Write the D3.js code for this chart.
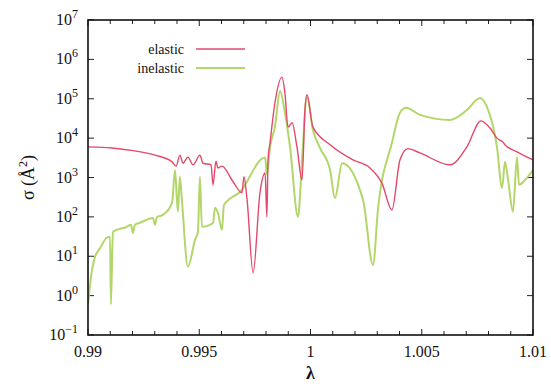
<!DOCTYPE html>
<html>
<head>
<meta charset="utf-8">
<script src="https://cdnjs.cloudflare.com/ajax/libs/d3/7.8.5/d3.min.js"></script>
<style>
  body { margin: 0; background: #fff; }
  svg text { font-family: "Liberation Serif", "Times New Roman", Times, "DejaVu Serif", serif; fill: #111; }
</style>
</head>
<body>
<div id="chart"></div>
<script>
// elastic cross-section
const elasticX = [0.99, 0.99108, 0.99202, 0.99301, 0.99378, 0.99396, 0.99413, 0.99427, 0.99449, 0.99472,
  0.99503, 0.99517, 0.99553, 0.99562, 0.99575, 0.99584, 0.99602, 0.99652, 0.99692, 0.99701,
  0.99715, 0.99742, 0.99773, 0.99796, 0.99804, 0.99809, 0.99818, 0.9984, 0.99872, 0.99885,
  0.99899, 0.99917, 0.99939, 0.99962, 0.99975, 0.99984, 1.00011, 1.00088, 1.00191, 1.00267,
  1.00321, 1.00366, 1.00402, 1.00438, 1.00492, 1.00627, 1.00703, 1.00766, 1.00807, 1.00838,
  1.00865, 1.00874, 1.00928, 1.01];
const elasticY = [6000, 5600, 4800, 3700, 2500, 1950, 3700, 2300, 3300, 2100,
  3700, 2300, 2100, 650, 2600, 1750, 1950, 780, 410, 1050,
  270, 3.8, 410, 1300, 100, 2800, 7600, 78000, 355000, 140000,
  19000, 24500, 6000, 870, 52000, 126000, 19000, 6800, 2800, 1750,
  720, 150, 2800, 5400, 4200, 2100, 6000, 27500, 18000, 10000,
  7900, 6800, 4500, 2800];

// inelastic cross-section
const inelasticX = [0.99, 0.99018, 0.99031, 0.99054, 0.9909, 0.99099, 0.99103, 0.99112, 0.99175, 0.99193,
  0.99202, 0.99211, 0.99234, 0.99292, 0.99301, 0.9931, 0.99337, 0.99378, 0.99391, 0.99404,
  0.99413, 0.99422, 0.99449, 0.99481, 0.99494, 0.99503, 0.99512, 0.99548, 0.99562, 0.99571,
  0.99584, 0.99602, 0.99611, 0.99683, 0.99796, 0.99804, 0.99818, 0.9984, 0.99863, 0.99885,
  0.99908, 0.99944, 0.99962, 0.99984, 1.00011, 1.00043, 1.00088, 1.0011, 1.00142, 1.00236,
  1.00281, 1.00303, 1.00366, 1.00402, 1.00429, 1.00492, 1.00627, 1.00703, 1.00762, 1.00793,
  1.00838, 1.00861, 1.00874, 1.00888, 1.0091, 1.00928, 1.00937, 1.00964, 1.01];
const inelasticY = [0.6, 4.5, 9.5, 16, 31, 31, 0.6, 42, 56, 63,
  39, 63, 71, 93, 63, 100, 112, 230, 1550, 135,
  1050, 270, 5.4, 26, 42, 1050, 56, 63, 71, 170,
  126, 47, 200, 430, 3200, 1200, 6000, 19000, 158000, 44000,
  6000, 100, 2800, 112000, 16000, 5600, 1550, 300, 2300, 270,
  6, 150, 7600, 44000, 59000, 39000, 29000, 52000, 105000, 62000,
  6000, 550, 2500, 870, 135, 3300, 650, 870, 1550];

const xTickValues = [0.99, 0.995, 1, 1.005, 1.01];
const xTickLabels = ["0.99", "0.995", "1", "1.005", "1.01"];
const yExponents = [-1, 0, 1, 2, 3, 4, 5, 6, 7];
const seriesNames = ["elastic", "inelastic"];
const seriesColors = ["#e4486a", "#b3d66a"];

const width = 551, height = 391;
const margin = { top: 20, right: 18, bottom: 56, left: 88 };
const iw = width - margin.left - margin.right;
const ih = height - margin.top - margin.bottom;
const serif = '"Liberation Serif", "Times New Roman", Times, "DejaVu Serif", serif';

const svg = d3.select("#chart").append("svg")
  .attr("width", width)
  .attr("height", height)
  .attr("font-family", serif);

const x = d3.scaleLinear().domain([0.99, 1.01]).range([0, iw]);
const y = d3.scaleLog().domain([0.1, 1e7]).range([ih, 0]);

const g = svg.append("g").attr("transform", `translate(${margin.left},${margin.top})`);

g.append("defs").append("clipPath").attr("id", "clip")
  .append("rect").attr("width", iw).attr("height", ih);

const minorX = d3.range(0, 21).map(i => 0.99 + i * 0.001);
const majorY = yExponents.map(e => Math.pow(10, e));

// ticks (inward, all four sides)
const ticks = g.append("g").attr("stroke", "#222").attr("stroke-width", 1);
minorX.forEach((v, i) => {
  const len = i % 5 === 0 ? 6 : 4;
  ticks.append("line").attr("x1", x(v)).attr("x2", x(v)).attr("y1", ih).attr("y2", ih - len);
  ticks.append("line").attr("x1", x(v)).attr("x2", x(v)).attr("y1", 0).attr("y2", len);
});
majorY.forEach(v => {
  ticks.append("line").attr("x1", 0).attr("x2", 6).attr("y1", y(v)).attr("y2", y(v));
  ticks.append("line").attr("x1", iw).attr("x2", iw - 6).attr("y1", y(v)).attr("y2", y(v));
});

// lines
const line = d3.line()
  .x(d => x(d[0]))
  .y(d => y(d[1]))
  .curve(d3.curveMonotoneX);

const plot = g.append("g").attr("clip-path", "url(#clip)");
const inelasticData = inelasticX.map((v, i) => [v, inelasticY[i]]);
const elasticData = elasticX.map((v, i) => [v, elasticY[i]]);

plot.append("path").datum(inelasticData)
  .attr("fill", "none").attr("stroke", seriesColors[1])
  .attr("stroke-width", 2).attr("stroke-linejoin", "round")
  .attr("d", line);
plot.append("path").datum(elasticData)
  .attr("fill", "none").attr("stroke", seriesColors[0])
  .attr("stroke-width", 1.4).attr("stroke-linejoin", "round")
  .attr("d", line);

// frame
g.append("rect").attr("width", iw).attr("height", ih)
  .attr("fill", "none").attr("stroke", "#111").attr("stroke-width", 1.6);

// x tick labels
xTickValues.forEach((v, i) => {
  g.append("text")
    .attr("x", x(v)).attr("y", ih + 22)
    .attr("text-anchor", "middle")
    .attr("font-size", 16)
    .text(xTickLabels[i]);
});

// y tick labels 10^n
yExponents.forEach(e => {
  const t = g.append("text")
    .attr("x", -10).attr("y", y(Math.pow(10, e)) + 5)
    .attr("text-anchor", "end")
    .attr("font-size", 16);
  t.append("tspan").text("10");
  t.append("tspan").attr("dy", -7).attr("font-size", 12)
    .text(e < 0 ? "\u2212" + Math.abs(e) : String(e));
});

// axis titles
g.append("text")
  .attr("x", x(1)).attr("y", ih + 44)
  .attr("text-anchor", "middle")
  .attr("font-size", 18)
  .attr("font-weight", "bold")
  .text("\u03bb");

const yt = svg.append("text")
  .attr("transform", `translate(34,${margin.top + ih / 2}) rotate(-90)`)
  .attr("text-anchor", "middle")
  .attr("font-size", 18);
yt.append("tspan").text("\u03c3 (\u00c5");
yt.append("tspan").attr("dy", -7).attr("font-size", 12).text("2");
yt.append("tspan").attr("dy", 7).text(")");

// legend
const legend = g.append("g");
seriesNames.forEach((name, i) => {
  const ly = 29 + i * 19;
  legend.append("text")
    .attr("x", 96).attr("y", ly + 5)
    .attr("text-anchor", "end")
    .attr("font-size", 14)
    .text(name);
  legend.append("line")
    .attr("x1", 108).attr("x2", 157)
    .attr("y1", ly).attr("y2", ly)
    .attr("stroke", seriesColors[i])
    .attr("stroke-width", i === 0 ? 1.4 : 2);
});
</script>
</body>
</html>
